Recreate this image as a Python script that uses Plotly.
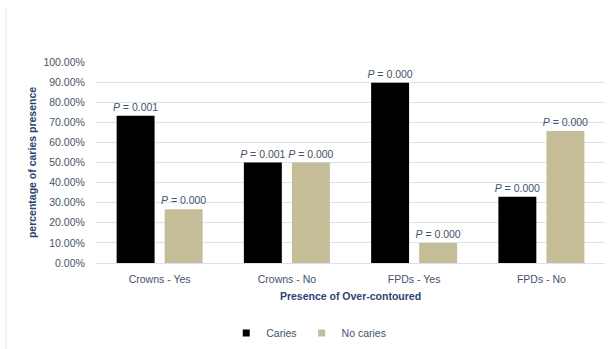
import plotly.graph_objects as go

categories = ["Crowns - Yes", "Crowns - No", "FPDs - Yes", "FPDs - No"]
caries = [0.733, 0.50, 0.897, 0.329]
no_caries = [0.267, 0.50, 0.100, 0.657]
caries_p = ["0.001", "0.001", "0.000", "0.000"]
no_caries_p = ["0.000", "0.000", "0.000", "0.000"]
y_ticks = [i / 10 for i in range(11)]

label_color = "#44546A"
title_color = "#2B4472"
font_family = "Liberation Sans, Arial, sans-serif"
c_caries = "#000000"
c_none = "#C4BD97"

fig = go.Figure()
fig.add_trace(go.Bar(
    x=categories, y=caries, name="Caries", showlegend=False,
    marker=dict(color=c_caries, line=dict(width=0)),
    text=["<i>P</i> = " + p for p in caries_p],
    textposition="outside", cliponaxis=False, constraintext="none",
    textfont=dict(color=label_color, size=10.5, family=font_family),
))
fig.add_trace(go.Bar(
    x=categories, y=no_caries, name="No caries", showlegend=False,
    marker=dict(color=c_none, line=dict(width=0)),
    text=["<i>P</i> = " + p for p in no_caries_p],
    textposition="outside", cliponaxis=False, constraintext="none",
    textfont=dict(color=label_color, size=10.5, family=font_family),
))
# legend entries (small square markers like the reference)
fig.add_trace(go.Scatter(x=[None], y=[None], mode="markers", name="Caries",
                         marker=dict(symbol="square", size=7, color=c_caries)))
fig.add_trace(go.Scatter(x=[None], y=[None], mode="markers", name="No caries",
                         marker=dict(symbol="square", size=7, color=c_none)))

fig.update_layout(
    width=613, height=349,
    margin=dict(l=96, r=8, t=62, b=86, autoexpand=False),
    paper_bgcolor="white", plot_bgcolor="white",
    font=dict(family=font_family, size=10.5, color=label_color),
    barmode="group", bargap=0.245, bargroupgap=0.21,
    showlegend=True,
    legend=dict(orientation="h", x=0.418, xanchor="center", y=-0.348, yanchor="middle",
                font=dict(size=10.5, color=label_color), itemwidth=30,
                traceorder="normal"),
)
fig.update_xaxes(
    showgrid=False, showline=True, linecolor="#D9E2F3", linewidth=1,
    ticks="outside", ticklen=6, tickcolor="rgba(0,0,0,0)",
    tickfont=dict(size=10.5, color=label_color),
    title=dict(text="<b>Presence of Over-contoured</b>", standoff=9,
               font=dict(size=10.5, color=title_color)),
)
fig.update_yaxes(
    range=[0, 1], tickvals=y_ticks, tickformat=".2%",
    showgrid=True, gridcolor="#D9E2F3", gridwidth=1,
    zeroline=False, showline=False,
    ticks="outside", ticklen=8, tickcolor="rgba(0,0,0,0)",
    tickfont=dict(size=10.5, color=label_color),
    title=dict(text="<b>percentage of caries presence</b>", standoff=4,
               font=dict(size=10.5, color=title_color)),
)
fig.add_shape(type="line", xref="paper", yref="paper",
              x0=-0.1768, x1=-0.1768, y0=1.264, y1=-0.43,
              line=dict(color="#D9E2F3", width=1), layer="below")

fig.write_html("out.html")
